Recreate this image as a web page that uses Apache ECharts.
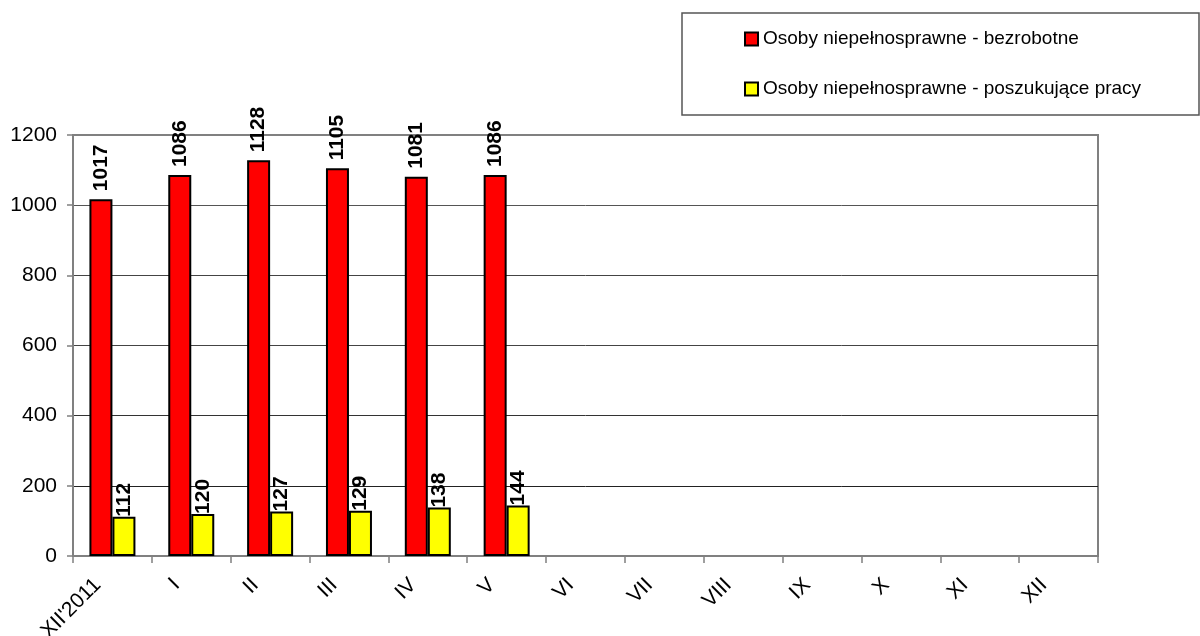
<!DOCTYPE html>
<html>
<head>
<meta charset="utf-8">
<script src="https://cdn.jsdelivr.net/npm/echarts@6/dist/echarts.min.js"></script>
<style>
html,body{margin:0;padding:0;background:#fff;}
#chart{width:1200px;height:636px;}
</style>
</head>
<body>
<div id="chart"></div>
<script>
const categories = ["XII'2011","I","II","III","IV","V","VI","VII","VIII","IX","X","XI","XII"];
const seriesNames = ["Osoby niepełnosprawne - bezrobotne","Osoby niepełnosprawne - poszukujące pracy"];
const unemployed = [1017,1086,1128,1105,1081,1086];
const jobSeekers = [112,120,127,129,138,144];
const yTicks = {min:0, max:1200, interval:200};

const FONT = 'Arial, "Liberation Sans", sans-serif';
const chart = echarts.init(document.getElementById('chart'));
chart.setOption({
  animation:false,
  backgroundColor:'#fff',
  textStyle:{fontFamily:FONT},
  graphic:[{
    type:'rect',
    shape:{x:682, y:13, width:517, height:102},
    style:{fill:'none', stroke:'#555', lineWidth:1.5},
    z:-1
  }],
  legend:{
    orient:'vertical',
    left:744, top:29,
    padding:0,
    itemGap:30,
    itemWidth:13, itemHeight:13,
    icon:'rect',
    textStyle:{fontSize:19, color:'#000', fontFamily:FONT, lineHeight:20},
    data:seriesNames
  },
  grid:{left:73, right:102, top:135, bottom:80, show:true, borderColor:'#808080', borderWidth:2,
        containLabel:false, outerBoundsMode:'none'},
  xAxis:{
    type:'category',
    data:categories,
    boundaryGap:true,
    axisLine:{lineStyle:{color:'#808080', width:2}},
    axisTick:{show:true, length:7, lineStyle:{color:'#808080', width:1.5}},
    axisLabel:{rotate:45, fontSize:21, color:'#000', margin:11, padding:[0,21,0,0], interval:0, fontFamily:FONT}
  },
  yAxis:{
    type:'value',
    min:yTicks.min, max:yTicks.max, interval:yTicks.interval,
    axisLine:{show:true, lineStyle:{color:'#808080', width:2}},
    axisTick:{show:true, length:6, lineStyle:{color:'#808080', width:1.5}},
    axisLabel:{fontSize:21, color:'#000', margin:16, fontFamily:FONT, formatter:function(v){return String(v);}},
    splitLine:{show:true, lineStyle:{color:['#000','#222','#333','#444','#444','#555','#808080'], width:1}}
  },
  series:[
    {
      name:seriesNames[0], type:'bar', data:unemployed,
      barWidth:23, barGap:'0%',
      itemStyle:{color:'#FF0000', borderColor:'#000', borderWidth:2},
      label:{show:true, position:'top', rotate:90, align:'left', verticalAlign:'middle', distance:8,
             fontSize:21, fontWeight:'bold', color:'#000', fontFamily:FONT}
    },
    {
      name:seriesNames[1], type:'bar', data:jobSeekers,
      barWidth:23, barGap:'0%',
      itemStyle:{color:'#FFFF00', borderColor:'#000', borderWidth:2},
      label:{show:true, position:'top', rotate:90, align:'left', verticalAlign:'middle', distance:2,
             offset:[-2,0],
             fontSize:21, fontWeight:'bold', color:'#000', fontFamily:FONT}
    }
  ]
});
</script>
</body>
</html>
